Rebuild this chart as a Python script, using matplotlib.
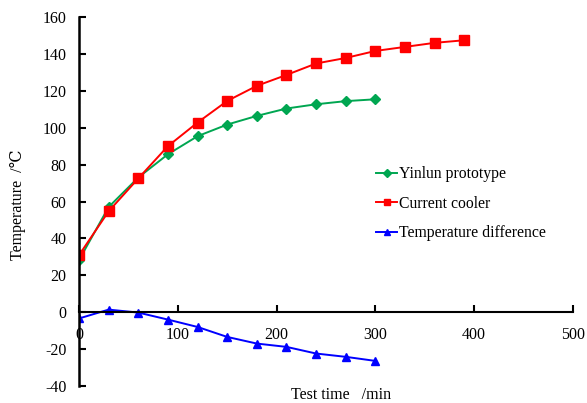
import matplotlib.pyplot as plt
import numpy as np

plt.rcParams['font.family'] = ['Liberation Serif', 'DejaVu Serif']
plt.rcParams['axes.unicode_minus'] = False

t_short = [0, 30, 60, 90, 120, 150, 180, 210, 240, 270, 300]
t_long = [0, 30, 60, 90, 120, 150, 180, 210, 240, 270, 300, 330, 360, 390]
yinlun = [28.2, 57, 73, 85.6, 95.4, 101.7, 106.4, 110.4, 112.7, 114.4, 115.4]
current = [30.9, 54.7, 72.5, 90, 102.8, 114.5, 122.7, 128.6, 134.8, 137.8, 141.6, 143.8, 146, 147.4]
diff = [-3.4, 1.4, -0.2, -4, -8, -13.4, -17, -18.8, -22.4, -24.2, -26.4]

fig = plt.figure(figsize=(5.87, 4.03), dpi=100)
ax = fig.add_axes([79/587, 1-386/403, (573-79)/587, (386-17)/403])

ax.plot(t_short, yinlun, color='#00a651', marker='D', markersize=5.5, lw=1.4,
        label='Yinlun prototype')
ax.plot(t_long, current, color='#ff0000', marker='s', markersize=7, lw=1.4,
        label='Current cooler')
ax.plot(t_short, diff, color='#0000ff', marker='^', markersize=6, lw=1.4,
        label='Temperature difference')

ax.set_xlim(0, 500)
ax.set_ylim(-40, 160)
ax.set_xticks(np.arange(0, 501, 100))
ax.set_yticks(np.arange(-40, 161, 20))

ax.spines['top'].set_visible(False)
ax.spines['right'].set_visible(False)
ax.spines['bottom'].set_position(('data', 0))
ax.spines['left'].set_linewidth(1.8)
ax.spines['bottom'].set_linewidth(1.5)
ax.tick_params(axis='y', direction='in', length=5, width=1.5, labelsize=11.5, pad=9)
ax.tick_params(axis='x', direction='in', length=5, width=1.5, labelsize=11.5, pad=11)

fig.text(341/587, 1-395/403, 'Test time   /min', ha='center', va='center', fontsize=11.5)
fig.text(18/587, 1-205/403, 'Temperature  /\u2103', ha='center', va='center',
         rotation=90, fontsize=11.5)

ax.legend(loc='upper left', bbox_to_anchor=(376/587, 1-166/403),
          bbox_transform=fig.transFigure, frameon=False, fontsize=11.3,
          handlelength=1.35, handletextpad=0.1, labelspacing=0.87, numpoints=1,
          markerscale=0.7, borderaxespad=0, borderpad=0)

fig.savefig('out.png', dpi=100)
